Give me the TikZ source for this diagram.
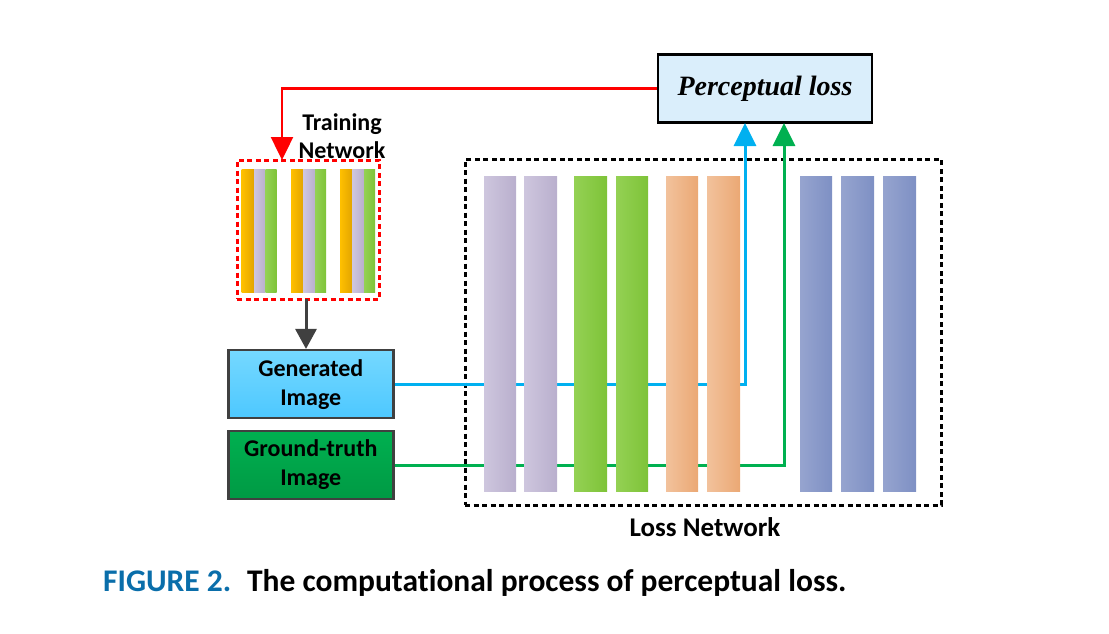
\documentclass[tikz,border=0pt]{standalone}
\usepackage{fontspec}
\setmainfont{Carlito}[Ligatures=NoCommon]
\newfontfamily\plfont{Liberation Serif}
\usetikzlibrary{arrows.meta}
\definecolor{plfill}{HTML}{DAEEFB}
\definecolor{boxgray}{HTML}{404040}
\definecolor{genA}{HTML}{75D8FF}
\definecolor{genB}{HTML}{4DC8FF}
\definecolor{gtA}{HTML}{00B050}
\definecolor{gtB}{HTML}{009A44}
\definecolor{lineblue}{HTML}{00B0F0}
\definecolor{linegreen}{HTML}{00B050}
\definecolor{linered}{HTML}{FF0000}
\definecolor{lavA}{HTML}{CEC6DE}
\definecolor{lavB}{HTML}{B9AFCD}
\definecolor{grnA}{HTML}{94D154}
\definecolor{grnB}{HTML}{7EC338}
\definecolor{orgA}{HTML}{F2C29C}
\definecolor{orgB}{HTML}{EBA874}
\definecolor{bluA}{HTML}{96A4CF}
\definecolor{bluB}{HTML}{7E90C4}
\definecolor{yelA}{HTML}{FFC000}
\definecolor{yelB}{HTML}{E2A400}
\definecolor{figblue}{HTML}{0A6EAA}
\begin{document}
\begin{tikzpicture}[x=1pt,y=-1pt,
  imgbox/.style={draw=boxgray, line width=2.5pt, minimum width=165pt, minimum height=68pt, inner sep=0pt, align=center, font=\bfseries\fontsize{24}{29}\selectfont},
  plbox/.style={draw=black, line width=2.5pt, fill=plfill, minimum width=214pt, minimum height=68pt, inner sep=0pt, font=\plfont\bfseries\itshape\fontsize{28}{32}\selectfont},
  dbox/.style={line width=3pt, dash pattern=on 5pt off 3.5pt, minimum width=#1, inner sep=0pt},
  conn/.style={line width=3pt},
  bigtip/.style={-{Triangle[length=23pt,width=22pt]}},
  lbl/.style={font=\bfseries\fontsize{24}{28}\selectfont, align=center, inner sep=0pt}
]
\useasboundingbox (0,0) rectangle (1109,634);

% nodes
\node[plbox] (pl) at (765,88.5) {Perceptual loss};
\node[dbox=142pt, draw=linered, minimum height=139pt] (tn) at (308,229.5) {};
\node[lbl, align=center] (tnl) at (342,136) {Training\\Network};
\node[imgbox, top color=genA, bottom color=genB] (gen) at (310.8,384.2) {Generated\\Image};
\node[imgbox, top color=gtA, bottom color=gtB] (gt) at (310.8,465) {Ground-truth\\Image};
\node[dbox=476pt, draw=black, minimum height=346pt] (ln) at (703,332) {};
\node[lbl, font=\bfseries\fontsize{27}{30}\selectfont] (lnl) at (705,527) {Loss Network};

% named connector end points
\coordinate (redx) at (282,160);
\coordinate (gray0) at (306,299);
\coordinate (bx) at (745,123);
\coordinate (gx) at (784,123);

% connectors
\draw[conn, line width=2.5pt, linered, bigtip] (pl.west) -| (redx);
\draw[conn, boxgray, -{Triangle[length=20pt,width=21pt]}] (gray0) -- (gray0 |- gen.north);
\draw[conn, lineblue, bigtip] (gen.east) -| (bx);
\draw[conn, linegreen, bigtip] (gt.east) -| (gx);

% loss network layers (drawn over the lines)
\foreach \a/\b/\ca/\cb in {484/516/lavA/lavB, 524/557/lavA/lavB, 574/607/grnA/grnB, 616/648/grnA/grnB, 666/698/orgA/orgB, 707/740/orgA/orgB, 800/832/bluA/bluB, 841/874/bluA/bluB, 883/916/bluA/bluB}
  \shade[left color=\ca, right color=\cb] (\a,176) rectangle (\b,491);

% training network layers
\foreach \x in {241.7,291,340}{
  \shade[left color=yelA, right color=yelB] (\x,169) rectangle ({\x+12.3},292.3);
  \shade[left color=lavA, right color=lavB] ({\x+12.3},169) rectangle ({\x+24},292.3);
  \shade[left color=grnA, right color=grnB] ({\x+24},169) rectangle ({\x+35},292.3);
}

% caption
\node[anchor=west, inner sep=0pt, font=\bfseries\fontsize{31.5}{34}\selectfont] (cap) at (103,583) {{\color{figblue}FIGURE 2.}\hspace{0.5em}The computational process of perceptual loss.};
\end{tikzpicture}
\end{document}
